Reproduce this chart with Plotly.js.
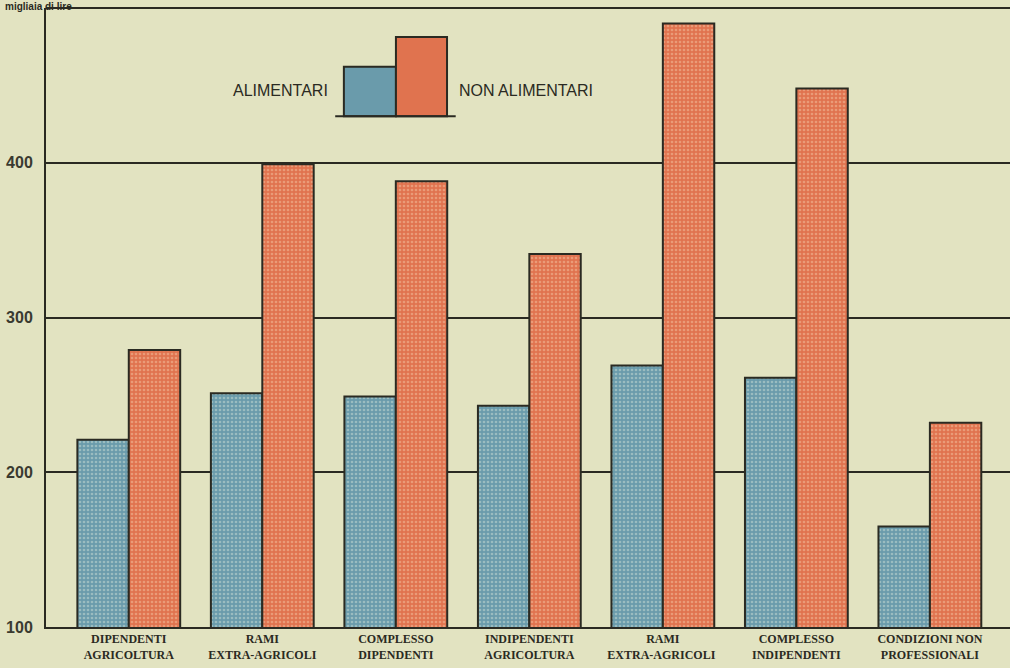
<!DOCTYPE html>
<html>
<head>
<meta charset="utf-8">
<script src="https://cdn.plot.ly/plotly-3.0.1.min.js"></script>
<style>
html,body{margin:0;padding:0;background:#e2e3c1;}
#chart{width:1010px;height:668px;}
</style>
</head>
<body>
<div id="chart"></div>
<script>
// Data (migliaia di lire)
const categories = [
  "DIPENDENTI<br>AGRICOLTURA",
  "RAMI<br>EXTRA-AGRICOLI",
  "COMPLESSO<br>DIPENDENTI",
  "INDIPENDENTI<br>AGRICOLTURA",
  "RAMI<br>EXTRA-AGRICOLI ",
  "COMPLESSO<br>INDIPENDENTI",
  "CONDIZIONI NON<br>PROFESSIONALI"
];
const alimentari = [221, 251, 249, 243, 269, 261, 165];
const nonAlimentari = [279, 399, 388, 341, 490, 448, 232];
const yTickVals = [100, 200, 300, 400, 500];
const yTickText = ["100", "200", "300", "400", ""];
const seriesNames = ["ALIMENTARI", "NON ALIMENTARI"];
const unitLabel = "migliaia di lire";

const bg = "#e2e3c1";
const ink = "#2a2a22";
const blueBg = "#6a9bab";
const blueFg = "#c9ddd6";
const orangeBg = "#e0734f";
const orangeFg = "#f3c3a2";

const traces = [
  {
    type: "bar", name: seriesNames[0], x: categories, y: alimentari,
    marker: {color: blueBg, line: {color: ink, width: 2},
      pattern: {shape: ".", bgcolor: blueBg, fgcolor: blueFg, size: 4, solidity: 0.35, fillmode: "overlay"}},
    hoverinfo: "y"
  },
  {
    type: "bar", name: seriesNames[1], x: categories, y: nonAlimentari,
    marker: {color: orangeBg, line: {color: ink, width: 2},
      pattern: {shape: ".", bgcolor: orangeBg, fgcolor: orangeFg, size: 4, solidity: 0.35, fillmode: "overlay"}},
    hoverinfo: "y"
  }
];

const layout = {
  width: 1010, height: 668,
  margin: {l: 46, r: 0, t: 8, b: 41, pad: 0},
  paper_bgcolor: bg, plot_bgcolor: bg,
  showlegend: false,
  barmode: "group", bargap: 0.23, bargroupgap: 0,
  xaxis: {
    type: "category", range: [-0.62, 6.6],
    showgrid: false, showline: true, linecolor: ink, linewidth: 2,
    ticks: "", zeroline: false,
    tickfont: {family: "Liberation Serif, Times New Roman, serif", size: 12, color: "#2a2a22", weight: "bold"},
    ticklabelstandoff: 0
  },
  yaxis: {
    range: [100, 500], tickvals: yTickVals, ticktext: yTickText,
    showgrid: true, gridcolor: ink, gridwidth: 2,
    showline: true, linecolor: ink, linewidth: 2, zeroline: false,
    ticks: "", ticklabelstandoff: 8,
    tickfont: {family: "Liberation Sans, Arial, sans-serif", size: 16, color: "#3a3a30", weight: "bold"}
  },
  shapes: [
    // top frame line
    {type: "line", xref: "paper", yref: "paper", x0: 0, x1: 1, y0: 1, y1: 1, line: {color: ink, width: 2}},
    // legend key: two small bars on a base line
    {type: "rect", xref: "paper", yref: "paper", x0: 0.309, x1: 0.363, y0: 0.825, y1: 0.905, fillcolor: blueBg, line: {color: ink, width: 2}},
    {type: "rect", xref: "paper", yref: "paper", x0: 0.363, x1: 0.416, y0: 0.825, y1: 0.953, fillcolor: orangeBg, line: {color: ink, width: 2}},
    {type: "line", xref: "paper", yref: "paper", x0: 0.300, x1: 0.425, y0: 0.825, y1: 0.825, line: {color: ink, width: 2}}
  ],
  annotations: [
    {xref: "paper", yref: "paper", x: 0.295, y: 0.866, xanchor: "right", yanchor: "middle", showarrow: false,
     text: seriesNames[0], font: {family: "Liberation Sans, Arial, sans-serif", size: 16, color: ink}},
    {xref: "paper", yref: "paper", x: 0.426, y: 0.866, xanchor: "left", yanchor: "middle", showarrow: false,
     text: seriesNames[1], font: {family: "Liberation Sans, Arial, sans-serif", size: 16, color: ink}},
    {xref: "paper", yref: "paper", x: 0, y: 1, xanchor: "left", yanchor: "top", xshift: -42, yshift: 8, borderpad: 0, showarrow: false,
     text: unitLabel, font: {family: "Liberation Sans, Arial, sans-serif", size: 10, color: ink, weight: "bold"}}
  ]
};

Plotly.newPlot("chart", traces, layout, {displayModeBar: false, staticPlot: true});
</script>
</body>
</html>
